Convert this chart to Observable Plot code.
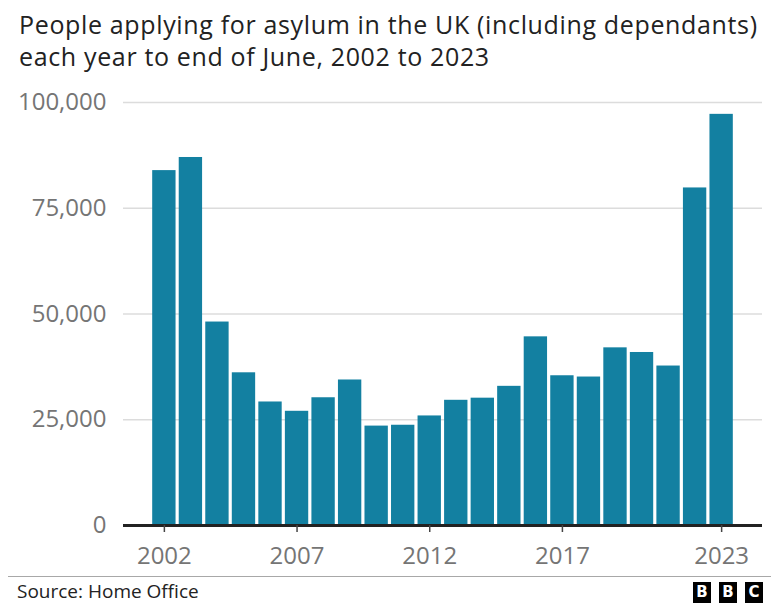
<!DOCTYPE html>
<html>
<head>
<meta charset="utf-8">
<script src="https://cdn.jsdelivr.net/npm/d3@7"></script>
<script src="https://cdn.jsdelivr.net/npm/@observablehq/plot@0.6"></script>
<style>
  html, body { margin: 0; padding: 0; background: #fff; }
  #wrap { position: relative; width: 771px; height: 603px; overflow: hidden; font-family: "Open Sans", sans-serif; }
  #title { position: absolute; left: 19px; top: 8px; font-size: 25px; line-height: 32px; letter-spacing: 0.65px; color: #222; white-space: nowrap; }
  #chart { position: absolute; left: 0; top: 80px; }
  #rule { position: absolute; left: 8px; right: 0; top: 576px; height: 0; border-top: 1.5px solid #a8a8a8; }
  #source { position: absolute; left: 17px; top: 582px; font-size: 19px; line-height: 19px; color: #222; }
  #logo { position: absolute; left: 693px; top: 582px; display: flex; gap: 8px; }
  #logo span { display: block; width: 18px; height: 21px; background: #000; color: #fff; font: bold 15px/21px "DejaVu Sans", sans-serif; text-align: center; }
</style>
</head>
<body>
<div id="wrap">
  <div id="title">People applying for asylum in the UK (including dependants)<br>each year to end of June, 2002 to 2023</div>
  <div id="chart"></div>
  <div id="rule"></div>
  <div id="source">Source: Home Office</div>
  <div id="logo"><span>B</span><span>B</span><span>C</span></div>
</div>
<script>
const years = [2002, 2003, 2004, 2005, 2006, 2007, 2008, 2009, 2010, 2011, 2012,
               2013, 2014, 2015, 2016, 2017, 2018, 2019, 2020, 2021, 2022, 2023];
const applications = [83900, 87000, 48100, 36100, 29200, 27000, 30200, 34400, 23500, 23700, 25900,
                      29600, 30100, 32900, 44600, 35400, 35100, 42000, 40900, 37700, 79800, 97200];
const yTicks = [0, 25000, 50000, 75000, 100000];
const xTicks = [2002, 2007, 2012, 2017, 2023];

const data = years.map((y, i) => ({year: y, value: applications[i]}));

const chart = Plot.plot({
  width: 771,
  height: 495,
  marginTop: 22,
  marginBottom: 50,
  marginLeft: 123,
  marginRight: 9,
  style: { fontFamily: "'Open Sans', sans-serif", background: "transparent" },
  x: { type: "band", domain: years, paddingInner: 0.12, paddingOuter: 1.1, round: false, axis: null, label: null },
  y: { domain: [0, 100000], axis: null, label: null },
  marks: [
    Plot.gridY(yTicks.filter(d => d > 0), { stroke: "#dcdcdc", strokeOpacity: 1, strokeWidth: 1.5 }),
    Plot.barY(data, { x: "year", y: "value", fill: "#1380A1" }),
    Plot.ruleY([0], { stroke: "#222", strokeWidth: 3 }),
    Plot.axisY({ ticks: yTicks, tickSize: 0, tickPadding: 17, fontSize: 24, fill: "#757575", label: null,
                 tickFormat: d => d3.format(",")(d) }),
    Plot.axisX({ ticks: xTicks, tickSize: 7, tickPadding: 14, fontSize: 24, fill: "#757575", stroke: "#444",
                 strokeWidth: 1.5, label: null, tickFormat: d => String(d) })
  ]
});
document.getElementById("chart").appendChild(chart);
</script>
</body>
</html>
